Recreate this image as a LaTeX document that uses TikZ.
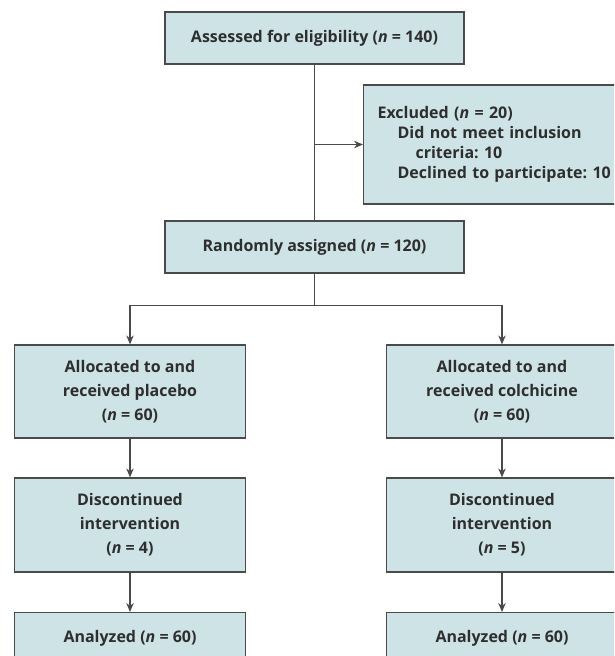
\documentclass[tikz,border=0pt]{standalone}
\usepackage{fontspec}
\setmainfont{Open Sans}
\frenchspacing
\usetikzlibrary{arrows.meta,calc}
\definecolor{boxfill}{HTML}{CDE3E6}
\definecolor{boxline}{HTML}{4A4A4A}
\definecolor{txt}{HTML}{2E2E2E}
\tikzset{
  flowbox/.style={draw=boxline, fill=boxfill, line width=1.2pt, rectangle,
    inner sep=0pt, text=txt, align=center,
    font={\fontsize{16pt}{24pt}\selectfont\bfseries\frenchspacing}},
  conn/.style={draw=boxline, line width=1.2pt},
  arr/.style={conn, -{Stealth[length=9pt,width=7.5pt]}}
}
\begin{document}
\begin{tikzpicture}[x=1pt,y=-1pt]
\useasboundingbox (0,0) rectangle (614,656);
\clip (0,0) rectangle (614,656);
\fill[white] (0,0) rectangle (614,656);
\node[flowbox, minimum width=299pt, minimum height=52pt] (top) at (314.5,38) {Assessed for eligibility (\textit{n} = 140)};
\node[flowbox, anchor=west, minimum height=119pt, text width=250pt, inner xsep=14pt, align=left,
  font={\fontsize{16pt}{20pt}\selectfont\bfseries\frenchspacing}] (excl) at (363,144.5)
  {Excluded (\textit{n} = 20)\\
   \hspace*{20pt}Did not meet inclusion\\
   \hspace*{38pt}criteria: 10\\
   \hspace*{20pt}Declined to participate: 10};
\node[flowbox, minimum width=299pt, minimum height=52pt] (rand) at (314.5,247) {Randomly assigned (\textit{n} = 120)};
\node[flowbox, minimum width=231pt, minimum height=93pt] (allocL) at (130,391.5) {Allocated to and\\received placebo\\(\textit{n} = 60)};
\node[flowbox, minimum width=231pt, minimum height=93pt] (allocR) at (502,391.5) {Allocated to and\\received colchicine\\(\textit{n} = 60)};
\node[flowbox, minimum width=231pt, minimum height=94pt] (discL) at (130,525) {Discontinued\\intervention\\(\textit{n} = 4)};
\node[flowbox, minimum width=231pt, minimum height=94pt] (discR) at (502,525) {Discontinued\\intervention\\(\textit{n} = 5)};
\node[flowbox, minimum width=231pt, minimum height=94pt, anchor=north] (anaL) at (130,612) {};
\node[flowbox, minimum width=231pt, minimum height=94pt, anchor=north] (anaR) at (502,612) {};
\node[text=txt, font={\fontsize{16pt}{24pt}\selectfont\bfseries}] (anaLt) at (130,638) {Analyzed (\textit{n} = 60)};
\node[text=txt, font={\fontsize{16pt}{24pt}\selectfont\bfseries}] (anaRt) at (502,638) {Analyzed (\textit{n} = 60)};
\coordinate (split) at ($(rand.south)+(0,32)$);
\draw[conn] (top.south) -- (rand.north);
\draw[arr] (top.south |- excl.west) -- (excl.west);
\draw[conn] (rand.south) -- (split);
\draw[arr] (split) -| (allocL.north);
\draw[arr] (split) -| (allocR.north);
\draw[arr] (allocL) -- (discL);
\draw[arr] (allocR) -- (discR);
\draw[arr] (discL) -- (anaL);
\draw[arr] (discR) -- (anaR);
\end{tikzpicture}
\end{document}
